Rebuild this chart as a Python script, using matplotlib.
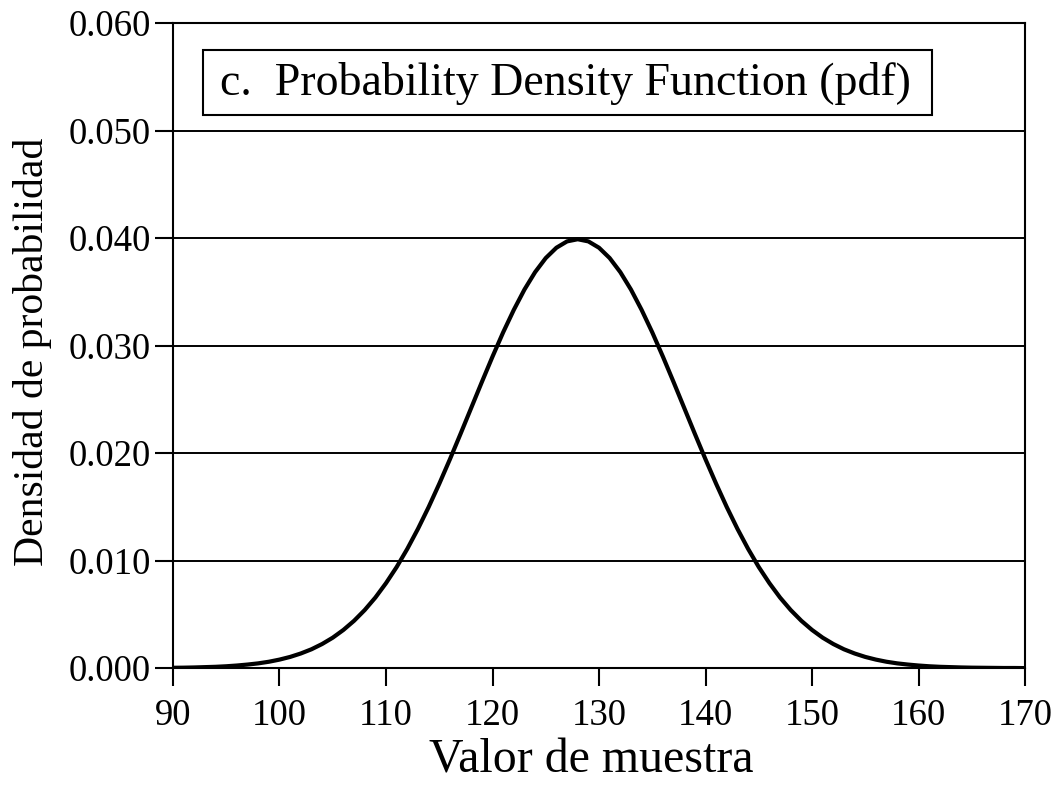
import matplotlib
matplotlib.use("Agg")
import matplotlib.pyplot as plt
from matplotlib.patches import Rectangle

# Sample values (x) and probability density
x_values = list(range(90, 171))
density = [0.00003, 0.00004, 0.00006, 0.00009, 0.00012, 0.00017, 0.00024, 0.00033, 0.00044, 0.00059,
           0.00079, 0.00104, 0.00136, 0.00175, 0.00224, 0.00283, 0.00355, 0.00440, 0.00540, 0.00656,
           0.00790, 0.00940, 0.01109, 0.01295, 0.01497, 0.01714, 0.01942, 0.02179, 0.02420, 0.02661,
           0.02897, 0.03123, 0.03332, 0.03521, 0.03683, 0.03814, 0.03910, 0.03969, 0.03989,
           0.03969, 0.03910, 0.03814, 0.03683, 0.03521, 0.03332, 0.03123, 0.02897, 0.02661, 0.02420,
           0.02179, 0.01942, 0.01714, 0.01497, 0.01295, 0.01109, 0.00940, 0.00790, 0.00656, 0.00540,
           0.00440, 0.00355, 0.00283, 0.00224, 0.00175, 0.00136, 0.00104, 0.00079, 0.00059, 0.00044,
           0.00033, 0.00024, 0.00017, 0.00012, 0.00009, 0.00006, 0.00004, 0.00003, 0.00002, 0.00001,
           0.00001, 0.00000]

x_ticks = [90, 100, 110, 120, 130, 140, 150, 160, 170]
y_ticks = [0.000, 0.010, 0.020, 0.030, 0.040, 0.050, 0.060]
y_tick_labels = ["0.000", "0.010", "0.020", "0.030", "0.040", "0.050", "0.060"]

title_text = "c.  Probability Density Function (pdf)"
x_label = "Valor de muestra"
y_label = "Densidad de probabilidad"

plt.rcParams['font.family'] = ['Liberation Serif', 'DejaVu Serif']

fig = plt.figure(figsize=(10.6, 7.86), dpi=100)
ax = fig.add_axes([0.1632, 0.150, 0.8038, 0.8207])

ax.plot(x_values, density, color='black', lw=3.0, solid_capstyle='round', zorder=3)

ax.set_xlim(90, 170)
ax.set_ylim(0, 0.060)
ax.set_xticks(x_ticks)
ax.set_yticks(y_ticks)
ax.set_yticklabels(y_tick_labels)
ax.tick_params(direction='out', length=13, width=1.5, labelsize=26.5, color='black')
ax.tick_params(axis='y', pad=3)
ax.tick_params(axis='x', pad=9)
for s in ax.spines.values():
    s.set_linewidth(1.5)
    s.set_color('black')

ax.yaxis.grid(True, color='black', lw=1.4)
ax.set_axisbelow(True)

ax.set_xlabel(x_label, fontsize=34.5, labelpad=4)
ax.xaxis.label.set_x(0.491)
ax.set_ylabel(y_label, fontsize=30, labelpad=12)
ax.yaxis.label.set_y(0.49)

ax.add_patch(Rectangle((0.0352, 0.8574), 0.8556, 0.1007, transform=ax.transAxes,
                       facecolor='white', edgecolor='black', lw=1.5, zorder=4))
ax.text(0.0552, 0.907, title_text, transform=ax.transAxes, fontsize=33,
        ha='left', va='center', zorder=5)

fig.savefig("out.png", dpi=100)
